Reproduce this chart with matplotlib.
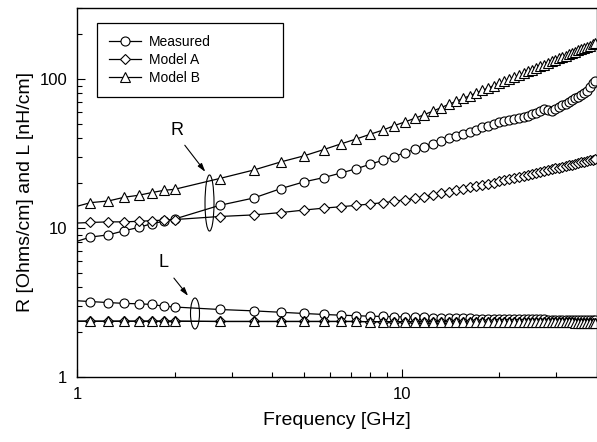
import matplotlib
matplotlib.use('Agg')
import matplotlib.pyplot as plt
from matplotlib.patches import Ellipse

plt.rcParams['font.family'] = ['Liberation Sans', 'DejaVu Sans']

# frequency sweep [GHz]; the 1.0 point only carries the line to the axis
freq = [1.0, 1.1, 1.25, 1.4, 1.55, 1.7, 1.85, 2.0, 2.75, 3.5, 4.25, 5.0, 5.75,
        6.5, 7.25, 8.0, 8.75, 9.5, 10.25, 11.0, 11.75, 12.5, 13.25, 14.0, 14.75,
        15.5, 16.25, 17.0, 17.75, 18.5, 19.25, 20.0, 20.75, 21.5, 22.25, 23.0,
        23.75, 24.5, 25.25, 26.0, 26.75, 27.5, 28.25, 29.0, 29.75, 30.5, 31.25,
        32.0, 32.75, 33.5, 34.25, 35.0, 35.75, 36.5, 37.25, 38.0, 38.75, 39.5]

# R [Ohms/cm]
r_meas = [8.15, 8.7, 9.0, 9.6, 10.1, 10.7, 11.1, 11.5, 14.2, 15.9, 18.4, 20.4,
          21.8, 23.4, 25.0, 26.8, 28.5, 30.2, 32.1, 33.8, 35.2, 36.8, 38.4, 39.9,
          41.4, 42.9, 44.4, 45.8, 47.3, 48.7, 50.1, 51.5, 52.6, 53.4, 54.2, 55.0,
          55.8, 56.9, 57.9, 59.0, 60.8, 62.6, 61.8, 61.0, 62.8, 64.8, 66.5, 68.5,
          70.2, 71.9, 74.2, 76.3, 78.5, 80.6, 83.5, 88.5, 94.0, 97.0]
r_model_a = [10.8, 10.9, 11.0, 11.0, 11.1, 11.2, 11.3, 11.4, 11.95, 12.25, 12.7,
             13.2, 13.6, 13.9, 14.2, 14.5, 14.8, 15.1, 15.5, 15.8, 16.2, 16.7,
             17.1, 17.5, 17.95, 18.35, 18.75, 19.1, 19.5, 19.9, 20.2, 20.6, 21.0,
             21.4, 21.7, 22.1, 22.45, 22.8, 23.15, 23.5, 23.8, 24.15, 24.5, 24.8,
             25.1, 25.45, 25.75, 26.05, 26.35, 26.65, 26.95, 27.25, 27.55, 27.85,
             28.1, 28.4, 28.65, 28.95]
r_model_b = [14.0, 14.8, 15.2, 16.1, 16.6, 17.3, 17.9, 18.2, 21.5, 24.5, 27.8,
             30.5, 33.6, 36.7, 39.6, 42.6, 45.4, 48.7, 51.6, 54.6, 57.7, 61.0,
             64.4, 67.7, 71.0, 74.2, 77.5, 80.8, 84.0, 87.2, 90.4, 93.6, 96.8,
             100.0, 103.1, 106.3, 109.4, 112.6, 115.7, 118.8, 122.0, 125.1, 128.2,
             131.3, 134.3, 137.4, 140.5, 143.6, 146.6, 149.7, 152.7, 155.8, 158.8,
             161.8, 164.8, 167.9, 170.9, 173.9]

# L [nH/cm]
l_meas = [3.25, 3.21, 3.16, 3.12, 3.10, 3.07, 2.99, 2.95, 2.84, 2.78, 2.72, 2.67,
          2.63, 2.60, 2.58, 2.56, 2.55, 2.54, 2.53, 2.52, 2.51, 2.50, 2.50, 2.49,
          2.49, 2.48, 2.48, 2.47, 2.47, 2.47, 2.46, 2.46, 2.46, 2.45, 2.45, 2.45,
          2.45, 2.44, 2.44, 2.44, 2.44, 2.44, 2.43, 2.43, 2.43, 2.43, 2.43, 2.43,
          2.42, 2.42, 2.42, 2.42, 2.42, 2.42, 2.41, 2.41, 2.41, 2.41]
l_model_a = [2.37, 2.37, 2.37, 2.37, 2.37, 2.37, 2.37, 2.37, 2.36, 2.36, 2.36,
             2.36, 2.36, 2.36, 2.36, 2.35, 2.35, 2.35, 2.35, 2.35, 2.35, 2.35,
             2.35, 2.35, 2.34, 2.34, 2.34, 2.34, 2.34, 2.34, 2.34, 2.34, 2.34,
             2.34, 2.34, 2.34, 2.33, 2.33, 2.33, 2.33, 2.33, 2.33, 2.33, 2.33,
             2.33, 2.33, 2.33, 2.33, 2.33, 2.33, 2.32, 2.32, 2.32, 2.32, 2.32,
             2.32, 2.32, 2.32]
l_model_b = [2.37, 2.37, 2.37, 2.37, 2.37, 2.37, 2.37, 2.37, 2.36, 2.36, 2.36,
             2.36, 2.36, 2.36, 2.36, 2.35, 2.35, 2.35, 2.35, 2.35, 2.35, 2.35,
             2.35, 2.35, 2.34, 2.34, 2.34, 2.34, 2.34, 2.34, 2.34, 2.34, 2.34,
             2.34, 2.34, 2.34, 2.33, 2.33, 2.33, 2.33, 2.33, 2.33, 2.33, 2.33,
             2.33, 2.33, 2.33, 2.33, 2.33, 2.33, 2.32, 2.32, 2.32, 2.32, 2.32,
             2.32, 2.32, 2.32]

series = [
    ('Measured', r_meas, l_meas, 'o', 6.5),
    ('Model A', r_model_a, l_model_a, 'D', 5.0),
    ('Model B', r_model_b, l_model_b, '^', 7.0),
]


def main():
    fig = plt.figure(figsize=(5.97, 4.42), dpi=100)
    ax = fig.add_axes([0.129, 0.147, 0.871, 0.835])

    marks = list(range(1, len(freq)))
    style = dict(color='black', lw=0.9, mfc='white', mec='black', mew=0.8,
                 markevery=marks, clip_on=True)
    for name, r_vals, l_vals, mk, ms in series:
        ax.plot(freq, r_vals, marker=mk, ms=ms, label=name, **style)
        ax.plot(freq, l_vals, marker=mk, ms=ms, **style)

    ax.set_xscale('log')
    ax.set_yscale('log')
    ax.set_xlim(1, 40)
    ax.set_ylim(1, 300)
    ax.set_xticks([1, 10])
    ax.set_xticklabels(['1', '10'])
    ax.set_yticks([1, 10, 100])
    ax.set_yticklabels(['1', '10', '100'])
    ax.minorticks_on()
    ax.xaxis.set_minor_formatter(plt.NullFormatter())
    ax.yaxis.set_minor_formatter(plt.NullFormatter())
    ax.tick_params(which='both', direction='in', labelsize=12, width=0.8)
    ax.tick_params(which='major', length=6, pad=7)
    ax.tick_params(which='minor', length=3.5)
    for sp in ax.spines.values():
        sp.set_linewidth(1.0)

    ax.set_xlabel('Frequency [GHz]', fontsize=14)
    ax.set_ylabel('R [Ohms/cm] and L [nH/cm]', fontsize=14)
    ax.xaxis.set_label_coords(0.5, -0.095)
    ax.yaxis.set_label_coords(-0.083, 0.5)

    # wide legend box, as in the original (text left, blank space on the right)
    leg = ax.legend(loc='upper left', bbox_to_anchor=(0.038, 0.761, 0.358, 0.198),
                    mode='expand', borderaxespad=0, fontsize=10, handlelength=2.3,
                    labelspacing=0.3, fancybox=False, framealpha=1,
                    edgecolor='black', borderpad=0.85, handletextpad=0.6)
    leg.get_frame().set_linewidth(0.9)

    # R / L callouts with ellipses
    ax.add_patch(Ellipse((0.2548, 0.4715), 0.0173, 0.152, transform=ax.transAxes,
                         fill=False, ec='black', lw=0.8))
    ax.add_patch(Ellipse((0.2269, 0.1721), 0.0173, 0.084, transform=ax.transAxes,
                         fill=False, ec='black', lw=0.8))
    arrow = dict(arrowstyle='-|>,head_length=0.5,head_width=0.15', color='black', lw=0.8)
    ax.annotate('', xy=(0.250, 0.550), xytext=(0.204, 0.634),
                xycoords='axes fraction', arrowprops=arrow)
    ax.annotate('', xy=(0.217, 0.214), xytext=(0.183, 0.274),
                xycoords='axes fraction', arrowprops=arrow)
    ax.text(0.192, 0.667, 'R', transform=ax.transAxes, fontsize=13,
            ha='center', va='center')
    ax.text(0.167, 0.309, 'L', transform=ax.transAxes, fontsize=13,
            ha='center', va='center')

    fig.savefig('out.png', dpi=100)


if __name__ == '__main__':
    main()
